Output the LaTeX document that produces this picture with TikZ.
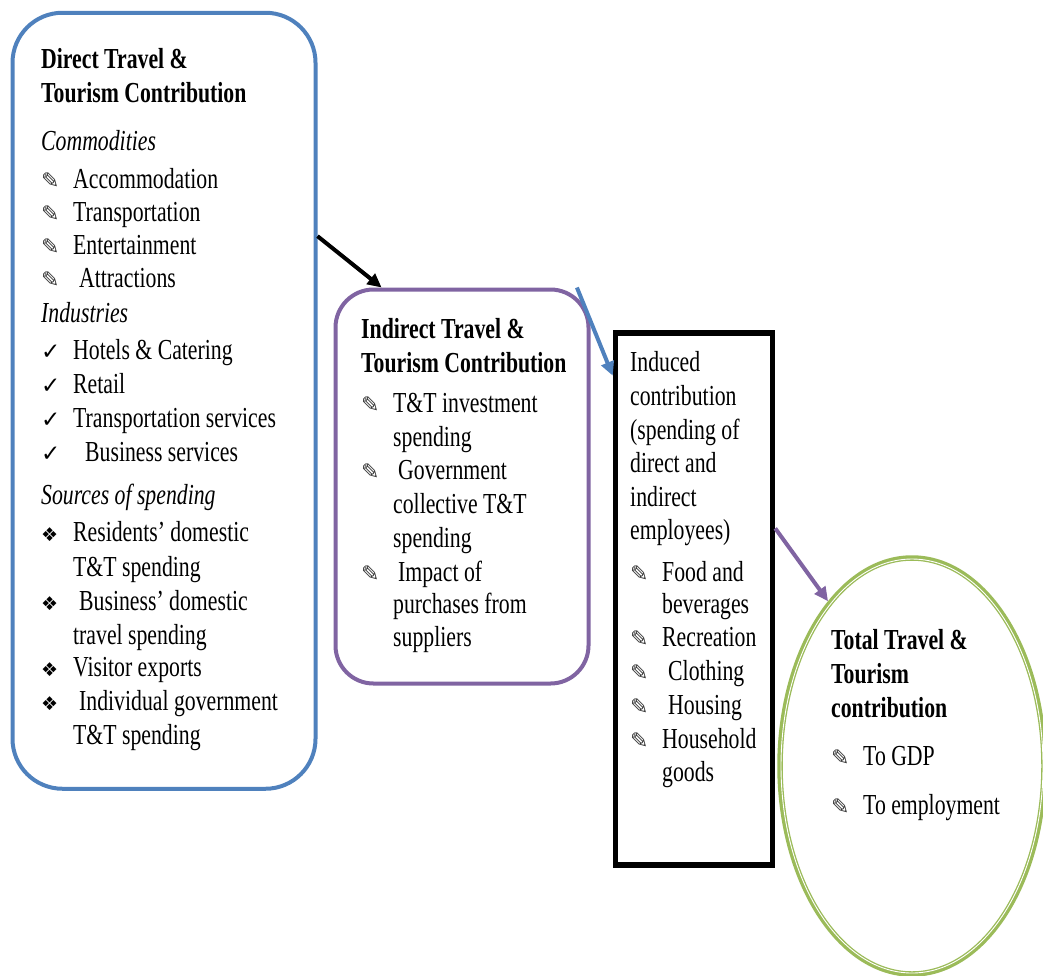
\documentclass[tikz,border=0pt]{standalone}
\usepackage{fontspec}
\setmainfont[FakeStretch=0.75]{Liberation Serif}
\newfontfamily\symfont{DejaVu Sans}
\usepackage{tikz}
\usetikzlibrary{arrows.meta,shapes.geometric,positioning,calc}
\definecolor{ttblue}{RGB}{79,129,189}
\definecolor{ttpurple}{RGB}{128,100,162}
\definecolor{ttgreen}{RGB}{155,187,89}
\newcommand{\pnt}{\makebox[32pt][l]{\symfont\fontsize{22}{22}\selectfont\color{black!80}✎}}
\newcommand{\chk}{\makebox[32pt][l]{\symfont\fontsize{23}{23}\selectfont ✓}}
\newcommand{\dia}{\makebox[32pt][l]{\symfont\fontsize{19}{19}\selectfont ❖}}
\newcommand{\hang}{\hspace*{32pt}}

\begin{document}
\begin{tikzpicture}[
    x=1pt, y=-1pt,
    directbox/.style  = {rectangle, draw=ttblue, line width=4pt, rounded corners=50pt,
                         minimum width=303pt, minimum height=776pt, inner sep=0pt},
    indirectbox/.style= {rectangle, draw=ttpurple, line width=4pt, rounded corners=38pt,
                         minimum width=253pt, minimum height=394pt, inner sep=0pt},
    inducedbox/.style = {rectangle, draw=black, line width=5.5pt,
                         minimum width=157pt, minimum height=532pt, inner sep=0pt},
    totalring/.style  = {ellipse, draw=ttgreen, line width=5.5pt,
                         minimum width=264pt, minimum height=416pt, inner sep=0pt},
    txt/.style        = {anchor=north west, align=left, inner sep=0pt,
                         font=\fontsize{29}{34}\selectfont},
    arr/.style        = {-{Triangle[length=14pt,width=13pt]}, line width=4pt}
  ]
    \useasboundingbox (0,0) rectangle (1043,975);

    \node[directbox]   (direct)   at (164,400.75) {};
    \node[indirectbox] (indirect) at (462,486.5)  {};
    \node[inducedbox]  (induced)  at (694,599)    {};
    \node[totalring]   (total)    at (912,766)    {};
    \draw[white, line width=0.9pt] (total.center) ellipse [x radius=131, y radius=207];

    \node[txt] (directtxt) at (41,48) {%
      \textbf{Direct Travel \&}\\
      \textbf{Tourism Contribution}\\[14pt]
      \textit{Commodities}\\[4pt]
      \pnt Accommodation\\[-1pt]
      \pnt Transportation\\[-1pt]
      \pnt Entertainment\\[-1pt]
      \pnt\hspace{6pt}Attractions\\[1pt]
      \textit{Industries}\\[3pt]
      \chk Hotels \& Catering\\
      \chk Retail\\
      \chk Transportation services\\
      \chk\hspace{12pt}Business services\\[9pt]
      \textit{Sources of spending}\\[3pt]
      \dia Residents’ domestic\\[1pt]
      \hang T\&T spending\\
      \dia\hspace{6pt}Business’ domestic\\
      \hang travel spending\\[-2pt]
      \dia Visitor exports\\
      \dia\hspace{6pt}Individual government\\
      \hang T\&T spending};

    \node[txt] (indirecttxt) at (361,318) {%
      \textbf{Indirect Travel \&}\\
      \textbf{Tourism Contribution}\\[6pt]
      \pnt T\&T investment\\
      \hang spending\\[-1pt]
      \pnt\hspace{5pt}Government\\
      \hang collective T\&T\\
      \hang spending\\
      \pnt\hspace{5pt}Impact of\\[-2pt]
      \hang purchases from\\[-1pt]
      \hang suppliers};

    \node[txt] (inducedtxt) at (630,351) {%
      Induced\\
      contribution\\
      (spending of\\[-1pt]
      direct and\\
      indirect\\[-1pt]
      employees)\\[8pt]
      \pnt Food and\\[-2pt]
      \hang beverages\\[-1pt]
      \pnt Recreation\\
      \pnt\hspace{6pt}Clothing\\
      \pnt\hspace{6pt}Housing\\
      \pnt Household\\[-1pt]
      \hang goods};

    \node[txt] (totaltxt) at (831,629) {%
      \textbf{Total Travel \&}\\
      \textbf{Tourism}\\
      \textbf{contribution}\\[14pt]
      \pnt To GDP\\[15pt]
      \pnt To employment};

    \draw[arr, black]     (direct.47)   -- (indirect.112);
    \draw[arr, ttblue]    (indirect.60) -- (induced.110);
    \draw[arr, ttpurple]  (induced.41)  -- (total.117);
\end{tikzpicture}
\end{document}
